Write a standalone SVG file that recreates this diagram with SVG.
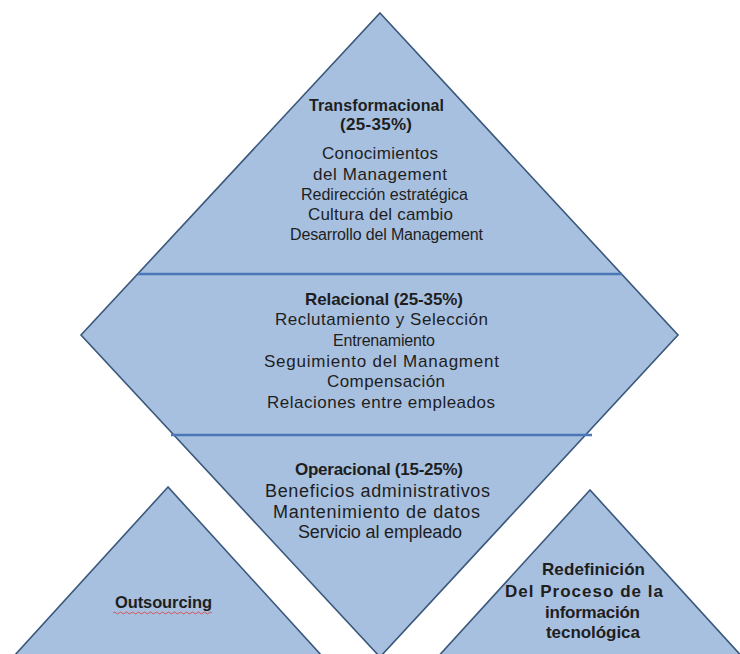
<svg xmlns="http://www.w3.org/2000/svg" width="740" height="654" viewBox="0 0 740 654">
<style>
.shape{fill:#a8c0df;stroke:#3a577c;stroke-width:1.6;stroke-linejoin:miter}
.div{stroke:#4a78b6;stroke-width:2.6;fill:none}
text{font-family:"Liberation Sans",Arial,sans-serif;font-size:17px;fill:#1e1e1e}
.b{font-weight:bold}
.s{font-size:18px}
.m{font-size:16px}
</style>
<rect width="740" height="654" fill="#ffffff"/>
<g id="diamond">
<polygon class="shape" points="380,13 678,335 380,657 81,335"/>
</g>
<g id="dividers">
<line class="div" x1="138" y1="274" x2="622" y2="274"/>
<line class="div" x1="171" y1="435" x2="592" y2="435"/>
</g>
<g id="outsourcing">
<polygon class="shape" points="168,487 4,667 332,667"/>
<text class="b" x="115" y="608" textLength="97" style="font-size:16.5px">Outsourcing</text>
<path d="M113,613 q1.5,-2 3,0 t3,0 t3,0 t3,0 t3,0 t3,0 t3,0 t3,0 t3,0 t3,0 t3,0 t3,0 t3,0 t3,0 t3,0 t3,0 t3,0 t3,0 t3,0 t3,0 t3,0 t3,0 t3,0 t3,0 t3,0 t3,0 t3,0 t3,0 t3,0 t3,0 t3,0 t3,0 t3,0" fill="none" stroke="#d94848" stroke-width="0.9"/>
</g>
<g id="redefinicion">
<polygon class="shape" points="590,490 435,660 745,660"/>
<text class="b" x="542" y="575" textLength="103">Redefinición</text>
<text class="b" x="505" y="597" textLength="158">Del Proceso de la</text>
<text class="b" x="545" y="618" textLength="95">información</text>
<text class="b" x="546" y="638" textLength="94">tecnológica</text>
</g>
<g id="transformacional">
<text class="b" x="309" y="111" textLength="135" style="font-size:16px">Transformacional</text>
<text class="b" x="340" y="130" textLength="72">(25-35%)</text>
<text x="322" y="159" textLength="116">Conocimientos</text>
<text x="313" y="180" textLength="134">del Management</text>
<text class="m" x="301" y="200" textLength="167">Redirección estratégica</text>
<text x="308" y="220" textLength="145">Cultura del cambio</text>
<text class="m" x="290" y="240" textLength="193">Desarrollo del Management</text>
</g>
<g id="relacional">
<text class="b" x="305" y="305" textLength="158">Relacional (25-35%)</text>
<text x="275" y="325" textLength="213">Reclutamiento y Selección</text>
<text class="m" x="333" y="346" textLength="102">Entrenamiento</text>
<text x="264" y="367" textLength="235">Seguimiento del Managment</text>
<text x="327" y="387" textLength="118">Compensación</text>
<text x="267" y="408" textLength="228">Relaciones entre empleados</text>
</g>
<g id="operacional">
<text class="b" x="295" y="475" textLength="168">Operacional (15-25%)</text>
<text class="s" x="265" y="497" textLength="225">Beneficios administrativos</text>
<text class="s" x="273" y="518" textLength="207">Mantenimiento de datos</text>
<text class="s" x="298" y="538" textLength="164">Servicio al empleado</text>
</g>
</svg>
